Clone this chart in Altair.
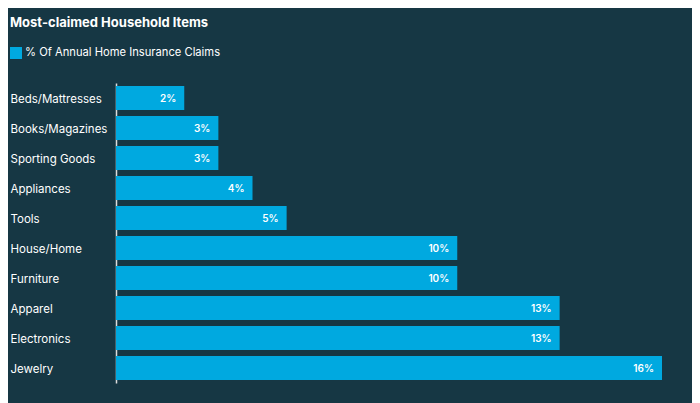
import altair as alt
import pandas as pd

categories = ["Beds/Mattresses", "Books/Magazines", "Sporting Goods", "Appliances", "Tools",
              "House/Home", "Furniture", "Apparel", "Electronics", "Jewelry"]
values = [2, 3, 3, 4, 5, 10, 10, 13, 13, 16]
series_name = "% Of Annual Home Insurance Claims"

df = pd.DataFrame({"item": categories, "pct": values, "series": series_name})
df["label"] = df["pct"].astype(str) + "%"

BG = "#163744"
BAR = "#00a9e0"
FONT = "Inter"

y_enc = alt.Y("item:N", sort=categories, title=None,
              scale=alt.Scale(paddingInner=0.2, paddingOuter=0.1),
              axis=alt.Axis(labelAlign="left", labelPadding=106, ticks=False, labelOffset=1.5,
                            labelColor="white", labelFontSize=11.5, labelFont=FONT,
                            domainColor="#dddddd", domainWidth=1.5, grid=False))

bars = alt.Chart(df).mark_bar(color=BAR).encode(
    y=y_enc,
    x=alt.X("pct:Q", scale=alt.Scale(domain=[0, 16], nice=False), axis=None),
    color=alt.Color("series:N", scale=alt.Scale(range=[BAR]),
                    legend=alt.Legend(title=None, orient="none", legendX=-106, legendY=-36,
                                      symbolType="square", symbolSize=144, symbolStrokeWidth=0,
                                      symbolOpacity=1, labelColor="white", labelFontSize=11.2,
                                      labelFont=FONT, labelOffset=3, labelLimit=400)),
)

labels = alt.Chart(df).mark_text(align="right", baseline="middle", dx=-8, dy=1, color="white",
                                 fontSize=10, fontWeight=600, font=FONT).encode(
    y=alt.Y("item:N", sort=categories),
    x=alt.X("pct:Q"),
    text="label:N",
)

chart = (bars + labels).properties(
    width=546, height=300,
    background=BG,
    autosize=alt.AutoSizeParams(type="none"),
    padding={"left": 108, "top": 75, "right": 30, "bottom": 20},
    title=alt.TitleParams("Most-claimed Household Items", anchor="start", offset=17,
                          color="white", fontSize=13, fontWeight="bold", font=FONT),
).configure_view(stroke=None)

chart.save("out.html", embed_options={"renderer": "svg", "actions": False})
